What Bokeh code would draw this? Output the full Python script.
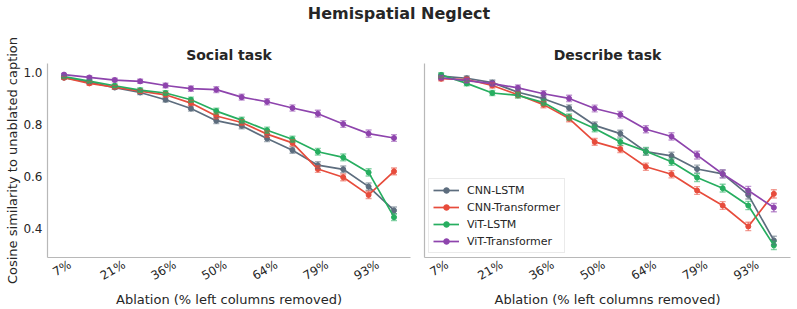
import math

from bokeh.core.properties import value
from bokeh.embed import file_html
from bokeh.layouts import column, row
from bokeh.models import (ColumnDataSource, FixedTicker, Legend, LegendItem,
                          PrintfTickFormatter, Range1d, TeeHead, Whisker)
from bokeh.plotting import figure
from bokeh.resources import INLINE

# Ablation levels (share of left image columns removed)
ablation = ["7%", "14%", "21%", "29%", "36%", "43%", "50%",
            "57%", "64%", "71%", "79%", "86%", "93%", "100%"]
step = list(range(1, len(ablation) + 1))

models = ["CNN-LSTM", "CNN-Transformer", "ViT-LSTM", "ViT-Transformer"]
colors = ["#5d6d7e", "#e74c3c", "#27ae60", "#8e44ad"]

# Social task: mean cosine similarity to the unablated caption
social_cnn_lstm = [0.981, 0.964, 0.943, 0.924, 0.896, 0.862, 0.815,
                   0.795, 0.746, 0.701, 0.643, 0.627, 0.560, 0.468]
social_cnn_transformer = [0.981, 0.959, 0.945, 0.929, 0.915, 0.883, 0.833,
                          0.808, 0.763, 0.729, 0.628, 0.596, 0.528, 0.619]
social_vit_lstm = [0.985, 0.968, 0.950, 0.933, 0.922, 0.896, 0.852,
                   0.817, 0.778, 0.743, 0.695, 0.673, 0.615, 0.442]
social_vit_transformer = [0.993, 0.982, 0.972, 0.967, 0.951, 0.939, 0.935,
                          0.906, 0.888, 0.864, 0.842, 0.802, 0.765, 0.748]

# Describe task
describe_cnn_lstm = [0.987, 0.979, 0.962, 0.925, 0.900, 0.864, 0.797,
                     0.765, 0.695, 0.679, 0.628, 0.609, 0.528, 0.352]
describe_cnn_transformer = [0.977, 0.974, 0.951, 0.915, 0.877, 0.823, 0.733,
                            0.705, 0.637, 0.608, 0.545, 0.487, 0.406, 0.532]
describe_vit_lstm = [0.992, 0.959, 0.922, 0.913, 0.885, 0.829, 0.785,
                     0.733, 0.697, 0.656, 0.595, 0.554, 0.487, 0.333]
describe_vit_transformer = [0.981, 0.970, 0.958, 0.942, 0.919, 0.901, 0.862,
                            0.838, 0.782, 0.754, 0.682, 0.609, 0.545, 0.479]

# Standard errors (same for every model in a task, roughly growing with ablation)
social_err = [0.005, 0.006, 0.007, 0.008, 0.009, 0.010, 0.011,
              0.011, 0.012, 0.012, 0.013, 0.013, 0.014, 0.013]
describe_err = [0.008, 0.009, 0.010, 0.011, 0.012, 0.012, 0.013,
                0.013, 0.014, 0.014, 0.015, 0.015, 0.016, 0.016]

social = [social_cnn_lstm, social_cnn_transformer, social_vit_lstm, social_vit_transformer]
describe = [describe_cnn_lstm, describe_cnn_transformer, describe_vit_lstm, describe_vit_transformer]

FONT = "DejaVu Sans"
TEXT = "#262626"
SPINE = "#b8b8b8"
X_START, X_END = 0.35, 14.65
Y_START, Y_END = 0.286, 1.036
TICK_PX = 12
ANGLE = math.pi / 6


def label_nudge(text, frame_px):
    """Bokeh pins a tilted label's upper-right corner to its tick; move the tick
    by half the label's tilted width so the text sits centred under its step."""
    em = sum(0.95 if ch == "%" else 0.636 for ch in text)
    half_px = 0.5 * (em * TICK_PX * math.cos(ANGLE)) - 2.0
    return half_px * (X_END - X_START) / frame_px


def panel(title, series, err, width, border_left, border_right, show_y):
    p = figure(width=width, height=279, output_backend="svg", toolbar_location=None,
               x_range=Range1d(X_START, X_END), y_range=Range1d(Y_START, Y_END),
               min_border_left=border_left, min_border_right=border_right,
               min_border_top=33, min_border_bottom=51)
    p.outline_line_color = None
    p.grid.visible = False
    p.background_fill_color = "white"
    p.border_fill_color = "white"

    p.title.text = title
    p.title.align = "center"
    p.title.text_font = FONT
    p.title.text_font_size = "14px"
    p.title.text_font_style = "bold"
    p.title.text_color = TEXT
    p.title.standoff = 1

    for ax in (p.xaxis[0], p.yaxis[0]):
        ax.axis_line_color = SPINE
        ax.axis_line_width = 1.2
        ax.major_tick_line_color = None
        ax.minor_tick_line_color = None
        ax.major_tick_out = 0
        ax.major_tick_in = 0
        ax.major_label_text_font = FONT
        ax.major_label_text_font_size = f"{TICK_PX}px"
        ax.major_label_text_color = TEXT
        ax.axis_label_text_font = FONT
        ax.axis_label_text_font_size = "13px"
        ax.axis_label_text_font_style = "normal"
        ax.axis_label_text_color = TEXT

    # x tick labels: every second ablation level, tilted
    frame_px = width - border_left - border_right
    shown = list(range(0, len(step), 2))
    tick_pos = [step[i] + label_nudge(ablation[i], frame_px) for i in shown]
    xa = p.xaxis[0]
    xa.ticker = FixedTicker(ticks=tick_pos)
    xa.major_label_overrides = {t: ablation[i] for t, i in zip(tick_pos, shown)}
    xa.major_label_orientation = ANGLE
    xa.major_label_standoff = 6
    xa.axis_label = "Ablation (% left columns removed)"
    xa.axis_label_standoff = 0

    ya = p.yaxis[0]
    if show_y:
        ya.ticker = FixedTicker(ticks=[0.4, 0.6, 0.8, 1.0])
        ya.formatter = PrintfTickFormatter(format="%.1f")
        ya.major_label_standoff = 5
        ya.axis_label = "Cosine similarity to unablated caption"
        ya.axis_label_standoff = 0
    else:
        ya.ticker = FixedTicker(ticks=[])

    items = []
    for name, color, vals in zip(models, colors, series):
        src = ColumnDataSource(dict(
            x=step, y=vals,
            lower=[v - e for v, e in zip(vals, err)],
            upper=[v + e for v, e in zip(vals, err)],
        ))
        wh = Whisker(source=src, base="x", lower="lower", upper="upper",
                     line_color=color, line_alpha=0.55, line_width=1.4,
                     upper_head=TeeHead(size=6, line_color=color, line_alpha=0.55, line_width=1.4),
                     lower_head=TeeHead(size=6, line_color=color, line_alpha=0.55, line_width=1.4),
                     level="glyph")
        p.add_layout(wh)
        ln = p.line("x", "y", source=src, line_color=color, line_width=1.7)
        sc = p.scatter("x", "y", source=src, size=5, fill_color=color, line_color=color)
        items.append(LegendItem(label=name, renderers=[ln, sc]))
    return p, items


p_social, _ = panel("Social task", social, social_err, 414, 47, 4, True)
p_describe, legend_items = panel("Describe task", describe, describe_err, 383, 10, 7, False)

legend = Legend(items=legend_items, location="bottom_left")
legend.label_text_font = FONT
legend.label_text_font_size = "11px"
legend.label_text_color = TEXT
legend.glyph_width = 26
legend.glyph_height = 14
legend.label_height = 14
legend.spacing = 3
legend.padding = 4
legend.margin = 4
legend.label_standoff = 8
legend.border_line_color = "#d6d6d6"
legend.border_line_width = 1
legend.background_fill_alpha = 0.85
p_describe.add_layout(legend)

# Figure-wide heading
head = figure(width=797, height=30, output_backend="svg", toolbar_location=None,
              x_range=Range1d(0, 1), y_range=Range1d(0, 1),
              x_axis_location=None, y_axis_location=None,
              min_border=0)
head.outline_line_color = None
head.grid.visible = False
head.text(x=[0.5], y=[1 - 13 / 30], text=["Hemispatial Neglect"],
          text_align="center", text_baseline="middle",
          text_font=value(FONT), text_font_size="16px", text_font_style="bold",
          text_color=TEXT)

layout = column(head, row(p_social, p_describe))

with open("out.html", "w") as f:
    f.write(file_html(layout, INLINE))
